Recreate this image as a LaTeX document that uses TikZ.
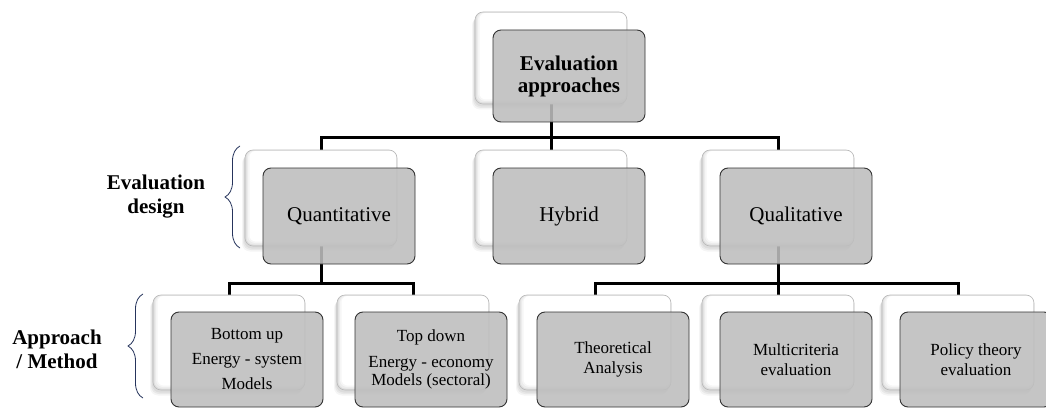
\documentclass[tikz,border=0pt]{standalone}
\usepackage{fontspec}
\setmainfont{Liberation Serif}
\usetikzlibrary{decorations.pathreplacing}
\pgfdeclarelayer{paper}
\pgfdeclarelayer{links}
\pgfsetlayers{paper,links,main}

\definecolor{boxgray}{RGB}{190,190,190}
\definecolor{bracecol}{RGB}{38,52,92}

\tikzset{
  card/.style={rounded corners=8pt, minimum width=152pt, minimum height=#1, inner sep=0pt},
  softshade/.style={fill=black, fill opacity=#1, draw=none},
  backcard/.style={card=#1, draw=gray!55, line width=0.6pt, fill=gray!26,
    preaction={softshade=0.05, transform canvas={xshift=-1pt, yshift=-2.5pt}},
    preaction={softshade=0.05, transform canvas={xshift=-2pt, yshift=-4pt}},
    preaction={softshade=0.04, transform canvas={xshift=-3pt, yshift=-5.5pt}},
    path picture={
      \fill[gray!15, rounded corners=7pt]
        ([xshift=1.5pt, yshift=1.5pt]path picture bounding box.south west) rectangle
        ([xshift=-0.3pt, yshift=-0.3pt]path picture bounding box.north east);
      \fill[gray!7, rounded corners=7pt]
        ([xshift=3pt, yshift=3pt]path picture bounding box.south west) rectangle
        ([xshift=-0.6pt, yshift=-0.6pt]path picture bounding box.north east);
      \fill[white, rounded corners=6pt]
        ([xshift=4.5pt, yshift=4.5pt]path picture bounding box.south west) rectangle
        ([xshift=-1pt, yshift=-1pt]path picture bounding box.north east);
    }},
  frontcard/.style={card=#1, draw=black!80, line width=0.9pt, fill=boxgray, fill opacity=0.88,
    text opacity=1, align=center},
  link/.style={line width=3pt, black},
  sidelabel/.style={font=\bfseries\fontsize{21}{24}\selectfont, align=center},
  bracket/.style={draw=bracecol, line width=0.8pt, decorate, decoration={brace, amplitude=15pt}},
  midtext/.style={font=\fontsize{21}{25}\selectfont},
}

\begin{document}
\begin{tikzpicture}[x=1pt, y=-1pt]
\useasboundingbox (0,0) rectangle (1046,409);
\begin{pgfonlayer}{paper}
  \fill[white] (0,0) rectangle (1046,409);
\end{pgfonlayer}
\clip (0,0) rectangle (1046,409);

% top level
\node[backcard=92pt]  (topB) at (551,58) {};
\node[frontcard=92pt, font=\bfseries\fontsize{21}{22}\selectfont] (top) at (569,76) {Evaluation\\approaches};

% evaluation design level
\node[backcard=96pt]  (quantB) at (321,198) {};
\node[frontcard=96pt, midtext] (quant) at (339,216) {Quantitative};
\node[backcard=96pt]  (hybB) at (551,198) {};
\node[frontcard=96pt, midtext] (hyb) at (569,216) {Hybrid};
\node[backcard=96pt]  (qualB) at (778,198) {};
\node[frontcard=96pt, midtext] (qual) at (796,216) {Qualitative};

% approach / method level
\node[backcard=95pt] (buB) at (229,342.5) {};
\node[frontcard=95pt, font=\fontsize{17}{25}\selectfont] (bu) at (247,359.5)
  {Bottom up\\Energy - system\\Models};
\node[backcard=95pt] (tdB) at (413,342.5) {};
\node[frontcard=95pt, font=\fontsize{17}{18}\selectfont] (td) at (431,359.5)
  {Top down\\[8pt]Energy - economy\\Models (sectoral)};
\node[backcard=95pt] (thB) at (595,342.5) {};
\node[frontcard=95pt, font=\fontsize{17}{20}\selectfont] (th) at (613,359.5)
  {Theoretical\\Analysis};
\node[backcard=95pt] (muB) at (778,342.5) {};
\node[frontcard=95pt, font=\fontsize{17}{20}\selectfont] (mu) at (796,359.5)
  {Multicriteria\\evaluation};
\node[backcard=95pt] (poB) at (958,342.5) {};
\node[frontcard=95pt, font=\fontsize{17}{20}\selectfont] (po) at (976,359.5)
  {Policy theory\\evaluation};

% tree links, kept behind the cards
\coordinate (j0) at (551,137);
\coordinate (j1) at (321,283);
\coordinate (j2) at (778,283);
\begin{pgfonlayer}{links}
  \draw[link] (topB.south) -- (hybB.north);
  \draw[link] (quantB.north) |- (j0) -| (qualB.north);
  \draw[link] (quantB.south) -- (j1);
  \draw[link] (buB.north) |- (j1) -| (tdB.north);
  \draw[link] (qualB.south) -- (muB.north);
  \draw[link] (thB.north) |- (j2) -| (poB.north);
\end{pgfonlayer}

% row labels with braces
\node[sidelabel] (designlbl) at (156,197) {Evaluation\\design};
\draw[bracket] (240,248) -- (240,146);
\node[sidelabel] (methodlbl) at (57,349) {Approach\\/ Method};
\draw[bracket] (143,398) -- (143,294);
\end{tikzpicture}
\end{document}
